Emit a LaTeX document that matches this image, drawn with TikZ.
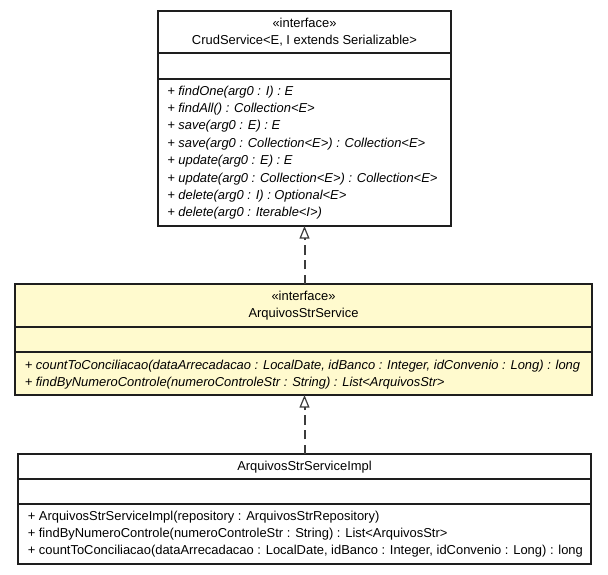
\documentclass[tikz,border=0pt]{standalone}
\usepackage{fontspec}
\setmainfont{Liberation Sans}
\usetikzlibrary{arrows.meta}
\definecolor{ifacefill}{RGB}{255,250,206}
\definecolor{edge}{RGB}{30,30,30}
\definecolor{linkgray}{RGB}{60,60,60}
\begin{document}
\begin{tikzpicture}[x=0.75pt,y=-0.75pt,
  umlbox/.style={draw=edge, line width=0.8pt, anchor=north west, inner sep=0pt, outer sep=0pt, fill=white},
  iface/.style={umlbox, fill=ifacefill},
  divider/.style={draw=edge, line width=0.8pt},
  label/.style={inner sep=0pt, anchor=base, font=\fontsize{9.7}{12}\selectfont},
  member/.style={label, anchor=base west},
  abstractop/.style={member, font=\fontsize{9.7}{12}\selectfont\itshape},
  realize/.style={draw=linkgray, line width=1.5pt, dash pattern=on 7pt off 4pt,
    -{Triangle[open, length=9.5pt, width=7.5pt, line width=0.9pt]}}
]
\useasboundingbox (0,0) rectangle (608,575);

% CrudService interface
\node[umlbox, minimum width={293*0.75pt}, minimum height={215*0.75pt}] (crud) at (158,11) {};
\draw[divider] (crud.west |- 0,53) -- (crud.east |- 0,53);
\draw[divider] (crud.west |- 0,79) -- (crud.east |- 0,79);
\node[label] (crudst) at (304.5,27) {«interface»};
\node[label] (crudname) at (304.5,44) {CrudService<E, I extends Serializable>};
\node[abstractop] (c1) at (167,95.0) {+ findOne(arg0 : I) : E};
\node[abstractop] (c2) at (167,112.4) {+ findAll() : Collection<E>};
\node[abstractop] (c3) at (167,129.8) {+ save(arg0 : E) : E};
\node[abstractop] (c4) at (167,147.2) {+ save(arg0 : Collection<E>) : Collection<E>};
\node[abstractop] (c5) at (167,164.6) {+ update(arg0 : E) : E};
\node[abstractop] (c6) at (167,182.0) {+ update(arg0 : Collection<E>) : Collection<E>};
\node[abstractop] (c7) at (167,199.4) {+ delete(arg0 : I) : Optional<E>};
\node[abstractop] (c8) at (167,216.8) {+ delete(arg0 : Iterable<I>)};

% ArquivosStrService interface
\node[iface, minimum width={577*0.75pt}, minimum height={111*0.75pt}] (arqsvc) at (15,284) {};
\draw[divider] (arqsvc.west |- 0,327) -- (arqsvc.east |- 0,327);
\draw[divider] (arqsvc.west |- 0,352) -- (arqsvc.east |- 0,352);
\node[label] (arqst) at (303.5,300.5) {«interface»};
\node[label] (arqname) at (303.5,317.5) {ArquivosStrService};
\node[abstractop] (a1) at (24.5,369) {+ countToConciliacao(dataArrecadacao : LocalDate, idBanco : Integer, idConvenio : Long) : long};
\node[abstractop] (a2) at (24.5,386) {+ findByNumeroControle(numeroControleStr : String) : List<ArquivosStr>};

% ArquivosStrServiceImpl class
\node[umlbox, minimum width={573*0.75pt}, minimum height={110*0.75pt}] (impl) at (18,454) {};
\draw[divider] (impl.west |- 0,479) -- (impl.east |- 0,479);
\draw[divider] (impl.west |- 0,504) -- (impl.east |- 0,504);
\node[label] (implname) at (304.5,470.5) {ArquivosStrServiceImpl};
\node[member] (i1) at (27.5,520.5) {+ ArquivosStrServiceImpl(repository : ArquivosStrRepository)};
\node[member] (i2) at (27.5,537.5) {+ findByNumeroControle(numeroControleStr : String) : List<ArquivosStr>};
\node[member] (i3) at (27.5,554.5) {+ countToConciliacao(dataArrecadacao : LocalDate, idBanco : Integer, idConvenio : Long) : long};

% realization links
\draw[realize] (crud.south |- arqsvc.north) -- (crud.south);
\draw[realize] (impl.north) -- (impl.north |- arqsvc.south);
\end{tikzpicture}
\end{document}
